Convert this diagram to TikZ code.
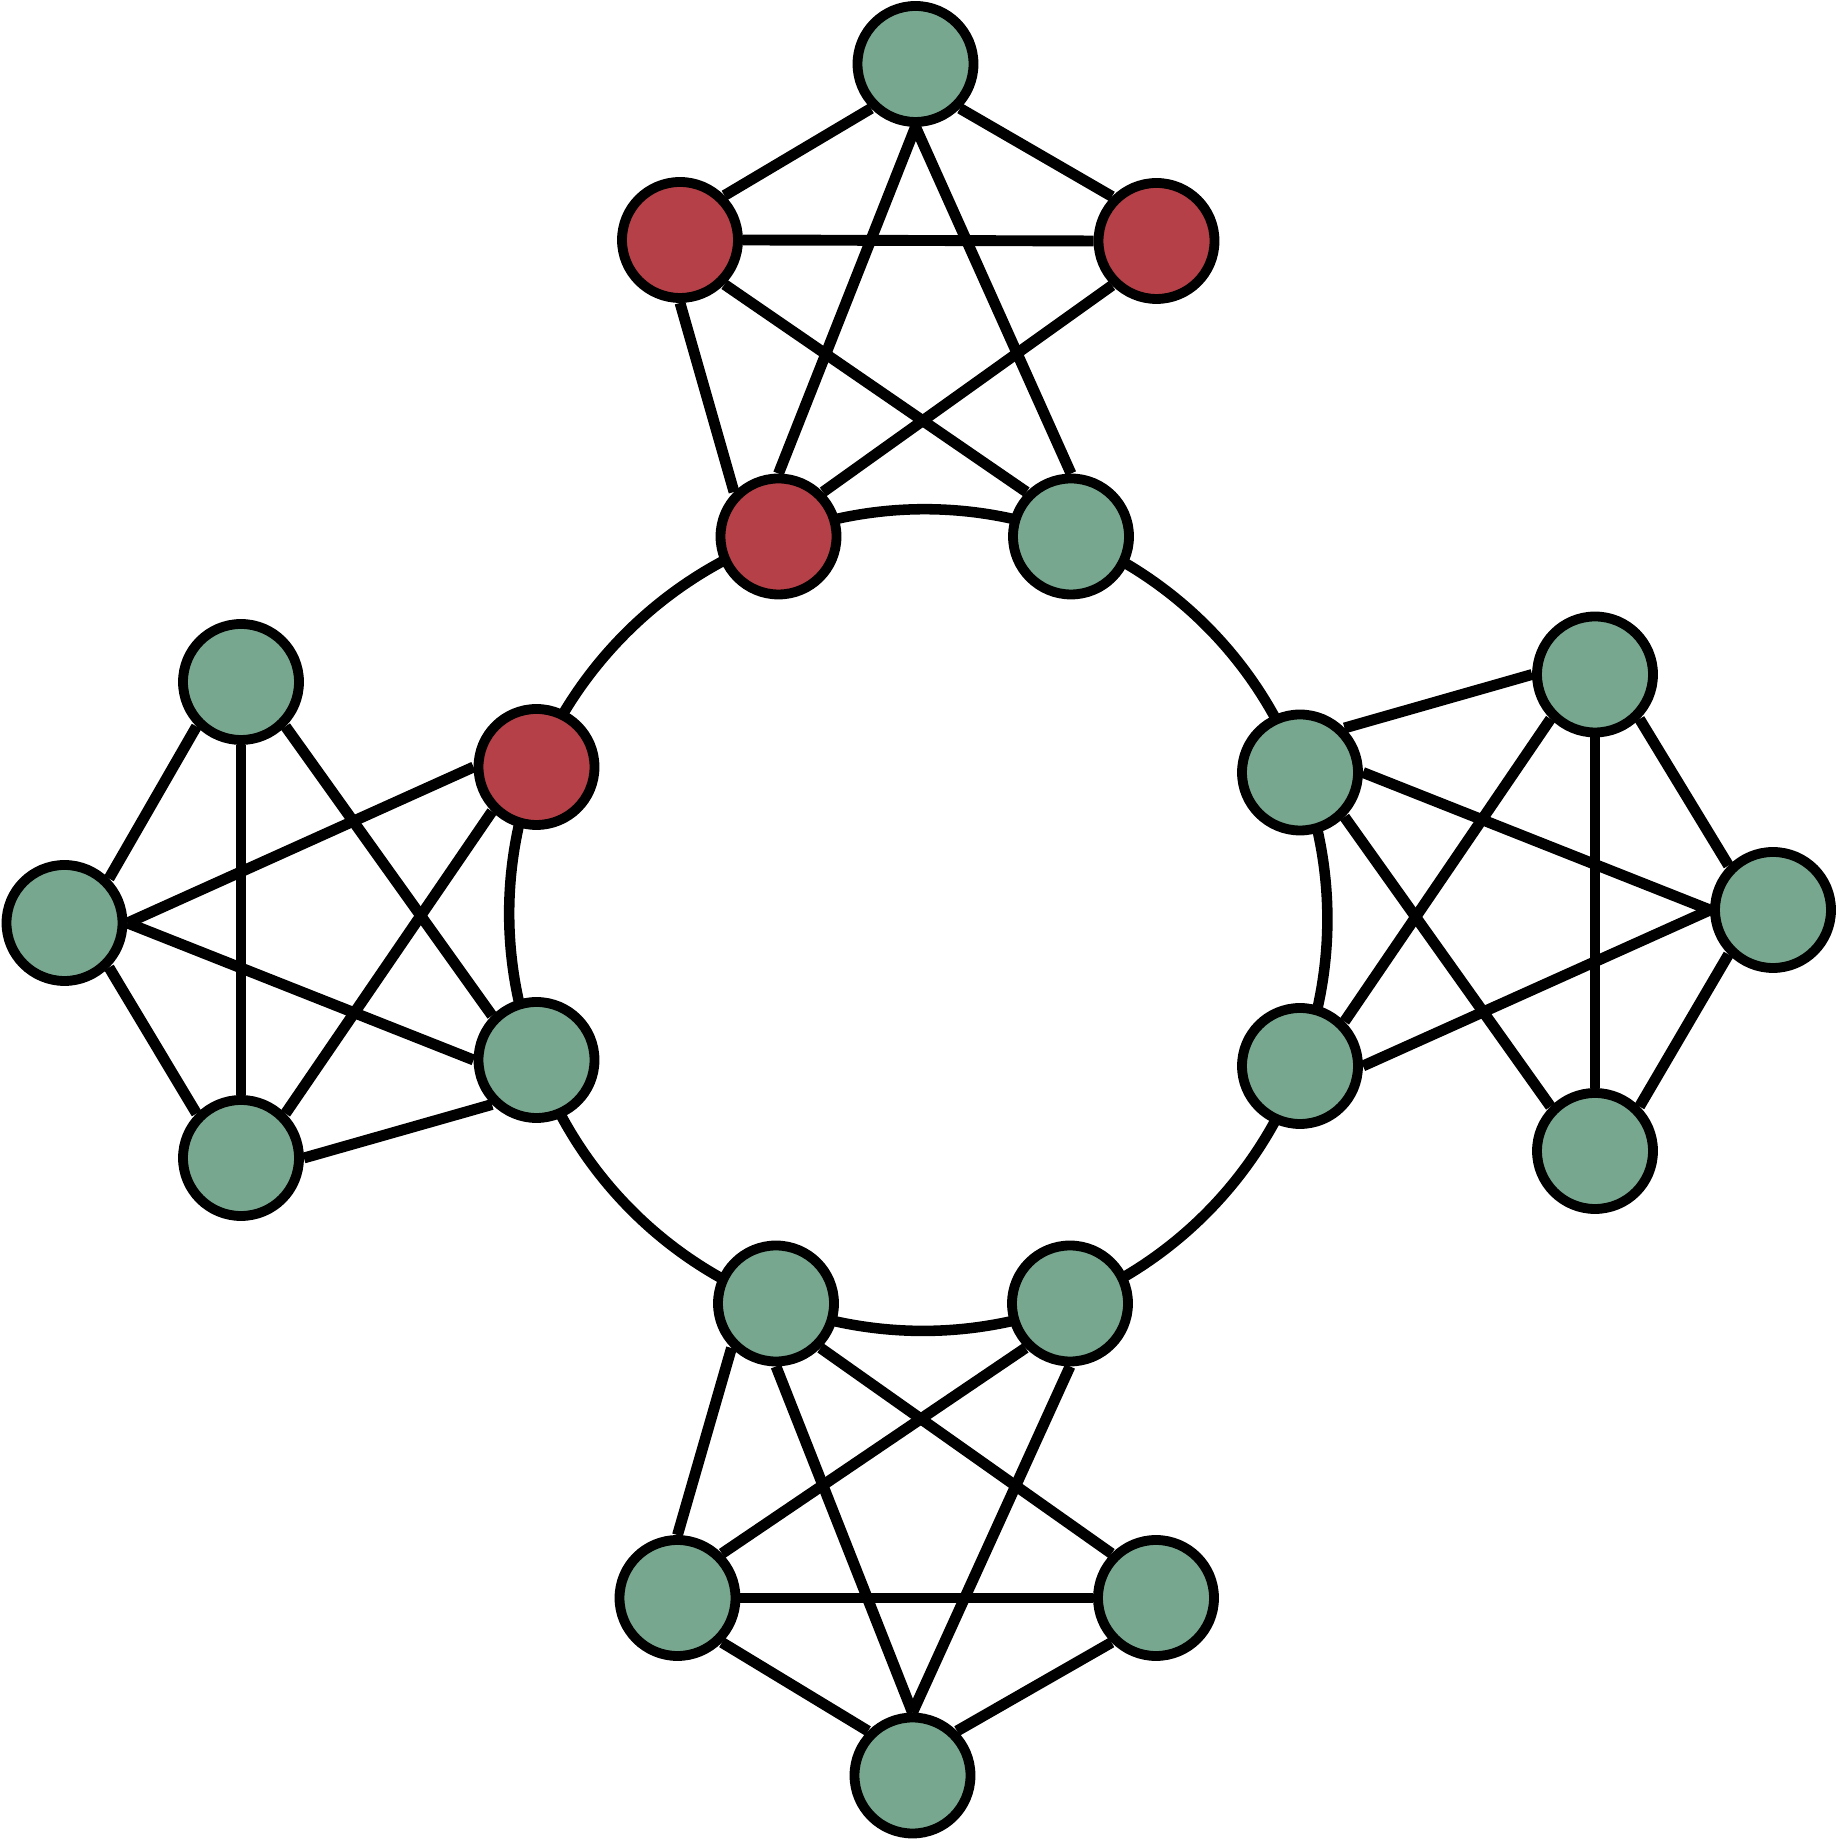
\documentclass[tikz,border=0pt]{standalone}
\usepackage{tikz}
\usetikzlibrary{calc}
\usetikzlibrary{backgrounds}
\definecolor{nodegreen}{RGB}{119,167,143}
\definecolor{nodered}{RGB}{181,64,71}

\begin{document}
\begin{tikzpicture}[
      vertex/.style={circle, draw=black, line width=2.8pt, minimum size=1.16cm, inner sep=0pt},
      green vertex/.style={vertex, fill=nodegreen},
      red vertex/.style={vertex, fill=nodered},
      edge line/.style={line width=3.1pt},
      ring line/.style={line width=3.0pt, looseness=0.89}
      ]
      \useasboundingbox (0,0) rectangle (18.37,18.39);

      % top cluster
      \node[green vertex] (TopA) at (9.155,17.75) {};
      \node[red vertex]   (TopB) at (6.80,15.99) {};
      \node[red vertex]   (TopC) at (11.565,15.98) {};
      \node[red vertex]   (TopD) at (7.785,13.025) {};
      \node[green vertex] (TopE) at (10.71,13.025) {};

      % right cluster
      \node[green vertex] (RightA) at (13.00,10.665) {};
      \node[green vertex] (RightB) at (13.00,7.73) {};
      \node[green vertex] (RightC) at (15.95,11.645) {};
      \node[green vertex] (RightD) at (17.73,9.29) {};
      \node[green vertex] (RightE) at (15.95,6.88) {};

      % bottom cluster
      \node[green vertex] (BotA) at (7.76,5.355) {};
      \node[green vertex] (BotB) at (10.70,5.355) {};
      \node[green vertex] (BotC) at (6.775,2.41) {};
      \node[green vertex] (BotD) at (11.56,2.41) {};
      \node[green vertex] (BotE) at (9.125,0.635) {};

      % left cluster
      \node[red vertex]   (LeftA) at (5.365,10.72) {};
      \node[green vertex] (LeftB) at (5.365,7.79) {};
      \node[green vertex] (LeftC) at (2.41,11.57) {};
      \node[green vertex] (LeftD) at (0.645,9.16) {};
      \node[green vertex] (LeftE) at (2.41,6.81) {};

      \begin{scope}[on background layer]
      % cluster edges
      \draw[edge line] (TopA.south west) -- (TopB.north east);
      \draw[edge line] (TopA.south east) -- (TopC.north west);
      \draw[edge line] (TopA.south) -- (TopD.north);
      \draw[edge line] (TopA.south) -- (TopE.north);
      \draw[edge line] (TopB.east) -- (TopC.west);
      \draw[edge line] (TopB.south) -- (TopD.north west);
      \draw[edge line] (TopB.south east) -- (TopE.north west);
      \draw[edge line] (TopC.south west) -- (TopD.north east);

      \draw[edge line] (RightD.west) -- (RightA.east);
      \draw[edge line] (RightD.west) -- (RightB.east);
      \draw[edge line] (RightD.north west) -- (RightC.south east);
      \draw[edge line] (RightD.south west) -- (RightE.north east);
      \draw[edge line] (RightC.south) -- (RightE.north);
      \draw[edge line] (RightC.west) -- (RightA.north east);
      \draw[edge line] (RightC.south west) -- (RightB.north east);
      \draw[edge line] (RightE.north west) -- (RightA.south east);

      \draw[edge line] (BotE.north) -- (BotA.south);
      \draw[edge line] (BotE.north) -- (BotB.south);
      \draw[edge line] (BotE.north west) -- (BotC.south east);
      \draw[edge line] (BotE.north east) -- (BotD.south west);
      \draw[edge line] (BotC.east) -- (BotD.west);
      \draw[edge line] (BotC.north) -- (BotA.south west);
      \draw[edge line] (BotC.north east) -- (BotB.south west);
      \draw[edge line] (BotD.north west) -- (BotA.south east);

      \draw[edge line] (LeftD.east) -- (LeftA.west);
      \draw[edge line] (LeftD.east) -- (LeftB.west);
      \draw[edge line] (LeftD.north east) -- (LeftC.south west);
      \draw[edge line] (LeftD.south east) -- (LeftE.north west);
      \draw[edge line] (LeftC.south) -- (LeftE.north);
      \draw[edge line] (LeftC.south east) -- (LeftB.north west);
      \draw[edge line] (LeftE.north east) -- (LeftA.south west);
      \draw[edge line] (LeftE.east) -- (LeftB.south west);

      % ring
      \draw[ring line] (TopD.center) to[bend left=21] (TopE.center);
      \draw[ring line] (TopE.center) to[bend left=24] (RightA.center);
      \draw[ring line] (RightA.center) to[bend left=21] (RightB.center);
      \draw[ring line] (RightB.center) to[bend left=24] (BotB.center);
      \draw[ring line] (BotB.center) to[bend left=21] (BotA.center);
      \draw[ring line] (BotA.center) to[bend left=25] (LeftB.center);
      \draw[ring line] (LeftB.center) to[bend left=21] (LeftA.center);
      \draw[ring line] (LeftA.center) to[bend left=24] (TopD.center);
      \end{scope}
\end{tikzpicture}
\end{document}
